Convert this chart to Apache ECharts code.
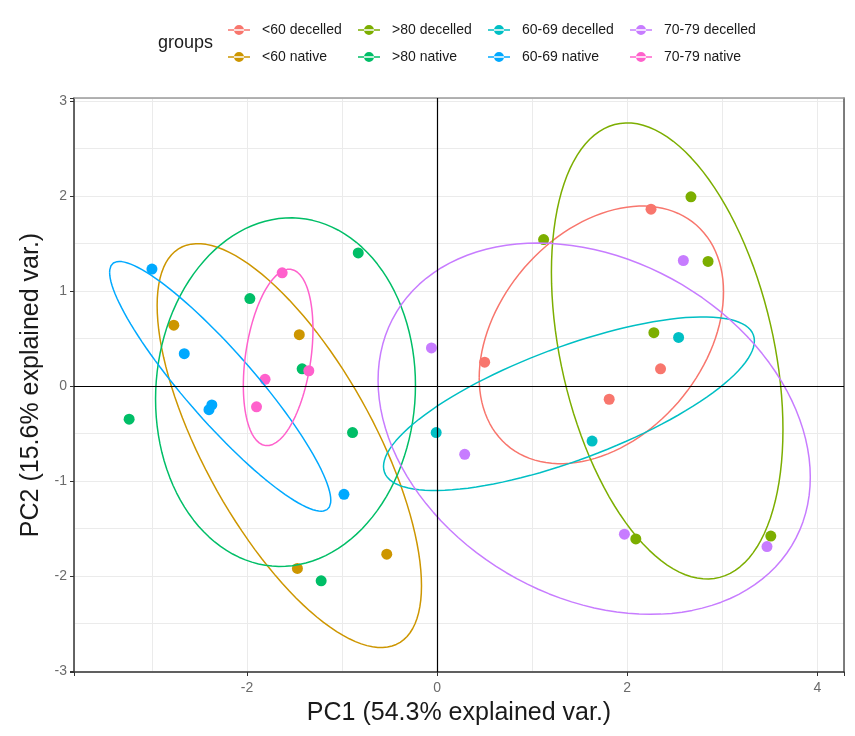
<!DOCTYPE html>
<html>
<head>
<meta charset="utf-8">
<script src="https://cdn.jsdelivr.net/npm/echarts@6/dist/echarts.min.js"></script>
<style>
  html, body { margin: 0; padding: 0; background: #ffffff; }
  #chart { width: 855px; height: 736px; }
</style>
</head>
<body>
<div id="chart"></div>
<script>
// Groups shown in the legend (column-wise: decelled on top, native below)
const groups = [
  '<60 decelled', '<60 native',
  '>80 decelled', '>80 native',
  '60-69 decelled', '60-69 native',
  '70-79 decelled', '70-79 native'
];

// PCA scores per group: [PC1, PC2]
const lt60Decelled   = [[2.25, 1.86], [0.50, 0.25], [2.35, 0.18], [1.81, -0.14]];
const lt60Native     = [[-2.77, 0.64], [-1.45, 0.54], [-1.47, -1.92], [-0.53, -1.77]];
const gt80Decelled   = [[1.12, 1.54], [2.67, 1.99], [2.85, 1.31], [2.28, 0.56], [2.09, -1.61], [3.51, -1.58]];
const gt80Native     = [[-0.83, 1.40], [-1.97, 0.92], [-1.42, 0.18], [-3.24, -0.35], [-0.89, -0.49], [-1.22, -2.05]];
const age6069Decelled = [[2.54, 0.51], [-0.01, -0.49], [1.63, -0.58]];
const age6069Native   = [[-3.00, 1.23], [-2.66, 0.34], [-2.37, -0.20], [-2.40, -0.25], [-0.98, -1.14]];
const age7079Decelled = [[-0.06, 0.40], [2.59, 1.32], [0.29, -0.72], [1.97, -1.56], [3.47, -1.69]];
const age7079Native   = [[-1.63, 1.19], [-1.81, 0.07], [-1.35, 0.16], [-1.90, -0.22]];

const groupScores = [
  lt60Decelled, lt60Native, gt80Decelled, gt80Native,
  age6069Decelled, age6069Native, age7079Decelled, age7079Native
];

// Axis ranges and titles
const pc1Range = [-3.82, 4.28];
const pc2Range = [-3.01, 3.03];
const pc1Title = 'PC1 (54.3% explained var.)';
const pc2Title = 'PC2 (15.6% explained var.)';
const legendTitle = 'groups';

// Normal-probability ellipse level for each group
const ellipseProb = 0.68;

// Default ggplot hue palette for 8 levels
const palette = ['#F8766D', '#CD9600', '#7CAE00', '#00BE67', '#00BFC4', '#00A9FF', '#C77CFF', '#FF61CC'];

// Ellipse from the group's mean and covariance (Cholesky of the sample covariance)
function normalEllipse(pts, prob, steps) {
  const n = pts.length;
  const mx = pts.reduce((s, p) => s + p[0], 0) / n;
  const my = pts.reduce((s, p) => s + p[1], 0) / n;
  let sxx = 0, syy = 0, sxy = 0;
  pts.forEach(p => {
    const dx = p[0] - mx, dy = p[1] - my;
    sxx += dx * dx; syy += dy * dy; sxy += dx * dy;
  });
  sxx /= (n - 1); syy /= (n - 1); sxy /= (n - 1);
  const a = Math.sqrt(sxx);
  const b = sxy / a;
  const c = Math.sqrt(Math.max(syy - b * b, 0));
  const ed = Math.sqrt(-2 * Math.log(1 - prob)); // chi-square quantile, 2 df
  const out = [];
  for (let k = 0; k <= steps; k++) {
    const t = -Math.PI + 2 * Math.PI * k / steps;
    const ct = Math.cos(t), st = Math.sin(t);
    out.push([mx + ed * ct * a, my + ed * (ct * b + st * c)]);
  }
  return out;
}

const font = '"Liberation Sans", Arial, Helvetica, sans-serif';
const keyIcon = 'path://M0,5.3h22v1.4h-22z M6,6a5,5 0 1,0 10,0a5,5 0 1,0 -10,0z';
const legendCols = [228, 358, 488, 630];
const legendRows = [23, 50];

const integerLabel = v => {
  const r = Math.round(v);
  return Math.abs(v - r) < 1e-6 ? String(r) : '';
};

const series = [];

// Reference lines through the origin
series.push({
  type: 'scatter',
  data: [],
  silent: true,
  z: 1,
  markLine: {
    silent: true,
    symbol: 'none',
    animation: false,
    label: { show: false },
    lineStyle: { color: '#000000', width: 1.2, type: 'solid' },
    emphasis: { disabled: true },
    data: [{ xAxis: 0 }, { yAxis: 0 }]
  }
});

groups.forEach((g, i) => {
  series.push({
    type: 'scatter',
    name: g,
    data: groupScores[i],
    symbolSize: 11,
    itemStyle: { color: palette[i], opacity: 1 },
    z: 3,
    animation: false
  });
});

groups.forEach((g, i) => {
  series.push({
    type: 'line',
    name: g,
    data: normalEllipse(groupScores[i], ellipseProb, 120),
    showSymbol: false,
    symbol: 'none',
    smooth: false,
    silent: true,
    lineStyle: { color: palette[i], width: 1.5 },
    itemStyle: { color: palette[i] },
    z: 4,
    animation: false
  });
});

const chart = echarts.init(document.getElementById('chart'), null, { renderer: 'canvas' });
chart.setOption({
  backgroundColor: '#ffffff',
  animation: false,
  title: {
    text: legendTitle,
    left: 158,
    top: 34,
    padding: 0,
    textStyle: { fontSize: 18, fontWeight: 'normal', color: '#1a1a1a', fontFamily: font }
  },
  legend: groups.map((g, i) => ({
    data: [{ name: g, icon: keyIcon }],
    left: legendCols[Math.floor(i / 2)],
    top: legendRows[i % 2],
    padding: 0,
    itemWidth: 22,
    itemHeight: 12,
    selectedMode: false,
    textStyle: { fontSize: 14, color: '#1a1a1a', fontFamily: font, padding: [0, 0, 0, 7] }
  })),
  grid: { left: 74, right: 11, top: 98, bottom: 64, containLabel: false },
  xAxis: [
    {
      type: 'value',
      min: pc1Range[0],
      max: pc1Range[1],
      splitNumber: 4,
      position: 'bottom',
      axisLine: { show: true, onZero: false, lineStyle: { color: '#333333', width: 1.5 } },
      axisTick: { show: true, length: 4, lineStyle: { color: '#333333', width: 1 } },
      axisLabel: { fontSize: 14, color: '#6b6b6b', margin: 9, fontFamily: font, formatter: integerLabel },
      splitLine: { show: false },
      name: pc1Title,
      nameLocation: 'middle',
      nameGap: 29,
      nameTextStyle: { fontSize: 25, color: '#1a1a1a', fontFamily: font }
    },
    {
      type: 'value',
      min: pc1Range[0],
      max: pc1Range[1],
      splitNumber: 8,
      position: 'top',
      axisLine: { show: true, onZero: false, lineStyle: { color: '#9a9a9a', width: 1.5 } },
      axisTick: { show: false },
      axisLabel: { show: false },
      splitLine: { show: true, lineStyle: { color: '#ebebeb', width: 1 } }
    }
  ],
  yAxis: [
    {
      type: 'value',
      min: pc2Range[0],
      max: pc2Range[1],
      splitNumber: 6,
      position: 'left',
      axisLine: { show: true, onZero: false, lineStyle: { color: '#333333', width: 1.5 } },
      axisTick: { show: true, length: 4, lineStyle: { color: '#333333', width: 1 } },
      axisLabel: { fontSize: 14, color: '#6b6b6b', margin: 7, fontFamily: font, formatter: integerLabel },
      splitLine: { show: false },
      name: pc2Title,
      nameLocation: 'middle',
      nameGap: 23,
      nameRotate: 90,
      nameTextStyle: { fontSize: 25, color: '#1a1a1a', fontFamily: font }
    },
    {
      type: 'value',
      min: pc2Range[0],
      max: pc2Range[1],
      splitNumber: 12,
      position: 'right',
      axisLine: { show: true, onZero: false, lineStyle: { color: '#555555', width: 1.5 } },
      axisTick: { show: false },
      axisLabel: { show: false },
      splitLine: { show: true, lineStyle: { color: '#ebebeb', width: 1 } }
    }
  ],
  series: series
});
</script>
</body>
</html>
